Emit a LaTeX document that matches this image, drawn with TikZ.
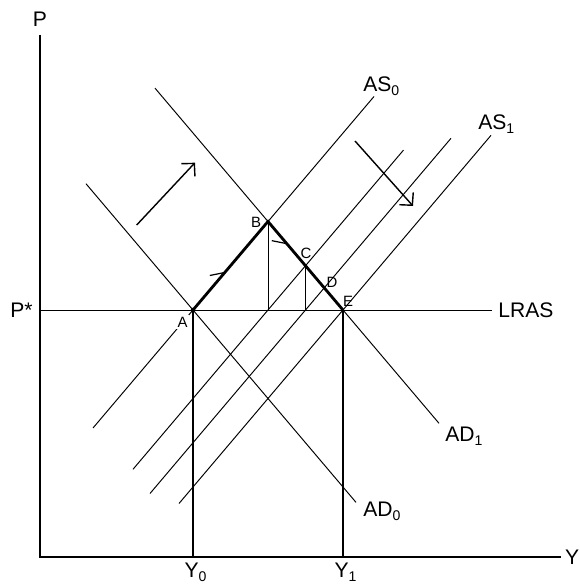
\documentclass[tikz,border=0pt]{standalone}
\usepackage{fontspec}
\setmainfont{Liberation Sans}
\usetikzlibrary{arrows.meta,positioning,calc,decorations.markings}

\begin{document}
\begin{tikzpicture}[
    crv/.style={line width=0.55pt},
    axisline/.style={line width=0.85pt},
    adjpath/.style={line width=1.6pt,line join=miter},
    lbl/.style={font=\fontsize{12}{14}\selectfont,inner sep=0pt},
    ptlbl/.style={font=\fontsize{8.5}{10}\selectfont,inner sep=0.8pt},
    move/.style={line width=0.8pt,-{Straight Barb[length=1.8mm,width=3.7mm,line width=0.8pt]}},
  ]
  \useasboundingbox (-0.8,-0.6) rectangle (10.8,11.14);
  % Axes
  \coordinate (O) at (0,0);
  \coordinate (ptop) at (0,10.44);
  \coordinate (yend) at (10.42,0);
  \draw[axisline] (ptop) -- (O) -- (yend);
  \node[lbl,above=0.16 of ptop] (plab) {P};
  \node[lbl,anchor=east] (ylab) at (10.79,0) {Y};
  % Price level line
  \coordinate (pst) at (0,4.94);
  \coordinate (lrasend) at (9.04,4.94);
  \draw[crv] (pst) -- (lrasend);
  \node[lbl,left=0.14 of pst] (pstlab) {P*};
  \node[lbl,right=0.12 of lrasend] (lraslab) {LRAS};
  % Key points
  \coordinate (A) at (3.06,4.94);
  \coordinate (B) at (4.56,6.71);
  \coordinate (C) at (5.31,5.825);
  \coordinate (D) at (5.685,5.3825);
  \coordinate (E) at (6.06,4.94);
  \coordinate (bfoot) at (4.56,4.94);
  \coordinate (cfoot) at (5.31,4.94);
  \coordinate (y0) at (3.06,0);
  \coordinate (y1) at (6.06,0);
  % AS curves
  \coordinate (as0lo) at (1.06,2.58);  \coordinate (as0hi) at (6.68,9.21);
  \coordinate (asalo) at (1.86,1.754); \coordinate (asahi) at (7.27,8.138);
  \coordinate (asblo) at (2.2,1.27);   \coordinate (asbhi) at (8.22,8.374);
  \coordinate (as1lo) at (2.78,1.07);  \coordinate (as1hi) at (9.02,8.433);
  \draw[crv] (as0lo) -- (as0hi);
  \draw[crv] (asalo) -- (asahi);
  \draw[crv] (asblo) -- (asbhi);
  \draw[crv] (as1lo) -- (as1hi);
  % AD curves
  \coordinate (ad0hi) at (0.92,7.465); \coordinate (ad0lo) at (6.32,1.093);
  \coordinate (ad1hi) at (2.3,9.377);  \coordinate (ad1lo) at (7.98,2.674);
  \draw[crv] (ad0hi) -- (ad0lo);
  \draw[crv] (ad1hi) -- (ad1lo);
  % Output levels
  \draw[line width=0.75pt] (A) -- (y0);
  \draw[line width=0.95pt] (E) -- (y1);
  \draw[crv] (B) -- (bfoot);
  \draw[crv] (C) -- (cfoot);
  % Adjustment path A -> B -> E
  \draw[adjpath,postaction={decorate,decoration={markings,
      mark=at position 0.22 with {\arrow{Straight Barb[left,length=2.4mm,width=3.8mm,line width=0.7pt]}},
      mark=at position 0.633 with {\arrow{Straight Barb[right,length=2.4mm,width=3.8mm,line width=0.7pt]}}}}]
    (A) -- (B) -- (E);
  \fill (A) circle (0.045);
  % Shift arrows
  \coordinate (adsh1) at (1.934,6.64);  \coordinate (adsh2) at (3.1,7.886);
  \coordinate (assh1) at (6.3,8.32);    \coordinate (assh2) at (7.46,7.02);
  \draw[move] (adsh1) -- (adsh2);
  \draw[move] (assh1) -- (assh2);
  % Curve labels
  \node[lbl,anchor=base west] (as0lab) at (6.46,9.30) {AS\textsubscript{0}};
  \node[lbl,anchor=base west] (as1lab) at (8.76,8.54) {AS\textsubscript{1}};
  \node[lbl,anchor=base west] (ad1lab) at (8.1,2.3) {AD\textsubscript{1}};
  \node[lbl,anchor=base west] (ad0lab) at (6.46,0.8) {AD\textsubscript{0}};
  \node[lbl,anchor=north] (y0lab) at (3.12,-0.12) {Y\textsubscript{0}};
  \node[lbl,anchor=north] (y1lab) at (6.12,-0.12) {Y\textsubscript{1}};
  % Point labels
  \node[ptlbl,fill=white] (alab) at (2.85,4.7) {A};
  \node[ptlbl] (blab) at (4.32,6.69) {B};
  \node[ptlbl] (clab) at (5.32,6.08) {C};
  \node[ptlbl] (dlab) at (5.84,5.5) {D};
  \node[ptlbl] (elab) at (6.16,5.12) {E};
\end{tikzpicture}
\end{document}
